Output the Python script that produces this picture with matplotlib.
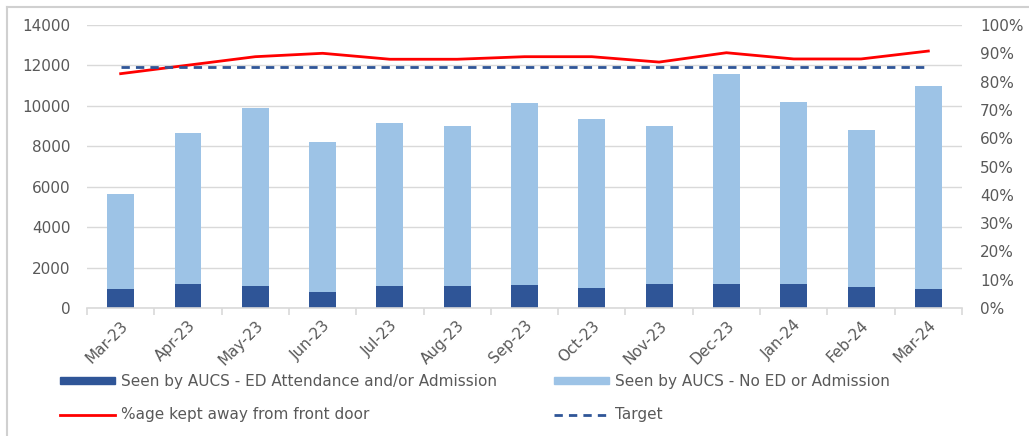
import matplotlib

matplotlib.use("Agg")
import matplotlib.pyplot as plt
import numpy as np
from matplotlib.lines import Line2D
from matplotlib.ticker import FixedLocator, PercentFormatter

# data
months = ["Mar-23", "Apr-23", "May-23", "Jun-23", "Jul-23", "Aug-23", "Sep-23",
          "Oct-23", "Nov-23", "Dec-23", "Jan-24", "Feb-24", "Mar-24"]
ed_admission = [960, 1190, 1090, 790, 1090, 1090, 1120, 1000, 1170, 1170, 1200, 1040, 960]
no_ed = [4690, 7460, 8810, 7410, 8080, 7910, 9010, 8340, 7810, 10410, 8980, 7770, 10030]
pct_kept_away = [82.8, 85.8, 88.8, 90.0, 87.9, 87.9, 88.8, 88.8, 86.9, 90.2, 88.0, 88.0, 90.8]
target = [85] * 13

dark_blue = "#2F5597"
light_blue = "#9DC3E6"
red = "#FF0000"
grid_col = "#D9D9D9"
txt_col = "#595959"

plt.rcParams["font.family"] = ["DejaVu Sans"]
plt.rcParams["font.size"] = 11

fig = plt.figure(figsize=(10.29, 4.36), dpi=100)
ax = fig.add_axes([87 / 1029, 1 - 308 / 436, 875 / 1029, 283 / 436])

x = np.arange(len(months))
ax.bar(x, ed_admission, width=0.4, color=dark_blue, zorder=2)
ax.bar(x, no_ed, width=0.4, bottom=ed_admission, color=light_blue, zorder=2)

ax.set_xlim(-0.5, len(months) - 0.5)
ax.set_ylim(0, 14000)
ax.set_yticks(range(0, 14001, 2000))
ax.grid(axis="y", color=grid_col, linewidth=1, zorder=0)
for s in ["top", "left", "right"]:
    ax.spines[s].set_visible(False)
ax.spines["bottom"].set_color(grid_col)
ax.spines["bottom"].set_linewidth(1.2)
ax.tick_params(axis="y", length=0, pad=12, labelcolor=txt_col, labelsize=11)

ax.set_xticks(x)
ax.set_xticklabels(months, rotation=45, ha="right", rotation_mode="anchor",
                   color=txt_col, fontsize=11)
ax.tick_params(axis="x", which="major", length=0, pad=7)
ax.xaxis.set_minor_locator(FixedLocator(np.arange(-0.5, len(months), 1)))
ax.tick_params(axis="x", which="minor", length=5, color=grid_col, width=1.2)

ax2 = ax.twinx()
ax2.plot(x, pct_kept_away, color=red, linewidth=2, zorder=3)
ax2.plot(x, target, color=dark_blue, linewidth=2, linestyle=(0, (3, 2.2)), zorder=3)
ax2.set_ylim(0, 100)
ax2.set_yticks(range(0, 101, 10))
ax2.yaxis.set_major_formatter(PercentFormatter(decimals=0))
ax2.tick_params(axis="y", length=0, pad=13, labelcolor=txt_col, labelsize=11)
for s in ax2.spines.values():
    s.set_visible(False)

# legend: column-first fill gives the two-row layout
handles = [
    plt.Rectangle((0, 0), 1, 1, color=dark_blue),
    Line2D([], [], color=red, linewidth=2),
    plt.Rectangle((0, 0), 1, 1, color=light_blue),
    Line2D([], [], color=dark_blue, linewidth=2, linestyle=(0, (3, 2.2))),
]
labels = ["Seen by AUCS - ED Attendance and/or Admission", "%age kept away from front door",
          "Seen by AUCS - No ED or Admission", "Target"]
fig.legend(handles, labels, ncol=2, frameon=False, loc="upper left",
           bbox_to_anchor=(60 / 1029, 1 - 374 / 436), handlelength=3.6, handleheight=0.4,
           handletextpad=0.4, columnspacing=3.7, labelspacing=1.2, borderpad=0,
           borderaxespad=0, labelcolor=txt_col, fontsize=11)

# outer chart border
fig.add_artist(Line2D([7 / 1029, 7 / 1029], [0, 1 - 7 / 436], transform=fig.transFigure,
                      color="#D0D0D0", linewidth=1.5))
fig.add_artist(Line2D([7 / 1029, 1], [1 - 7 / 436, 1 - 7 / 436], transform=fig.transFigure,
                      color="#D0D0D0", linewidth=1.5))

fig.savefig("out.png", dpi=100)
